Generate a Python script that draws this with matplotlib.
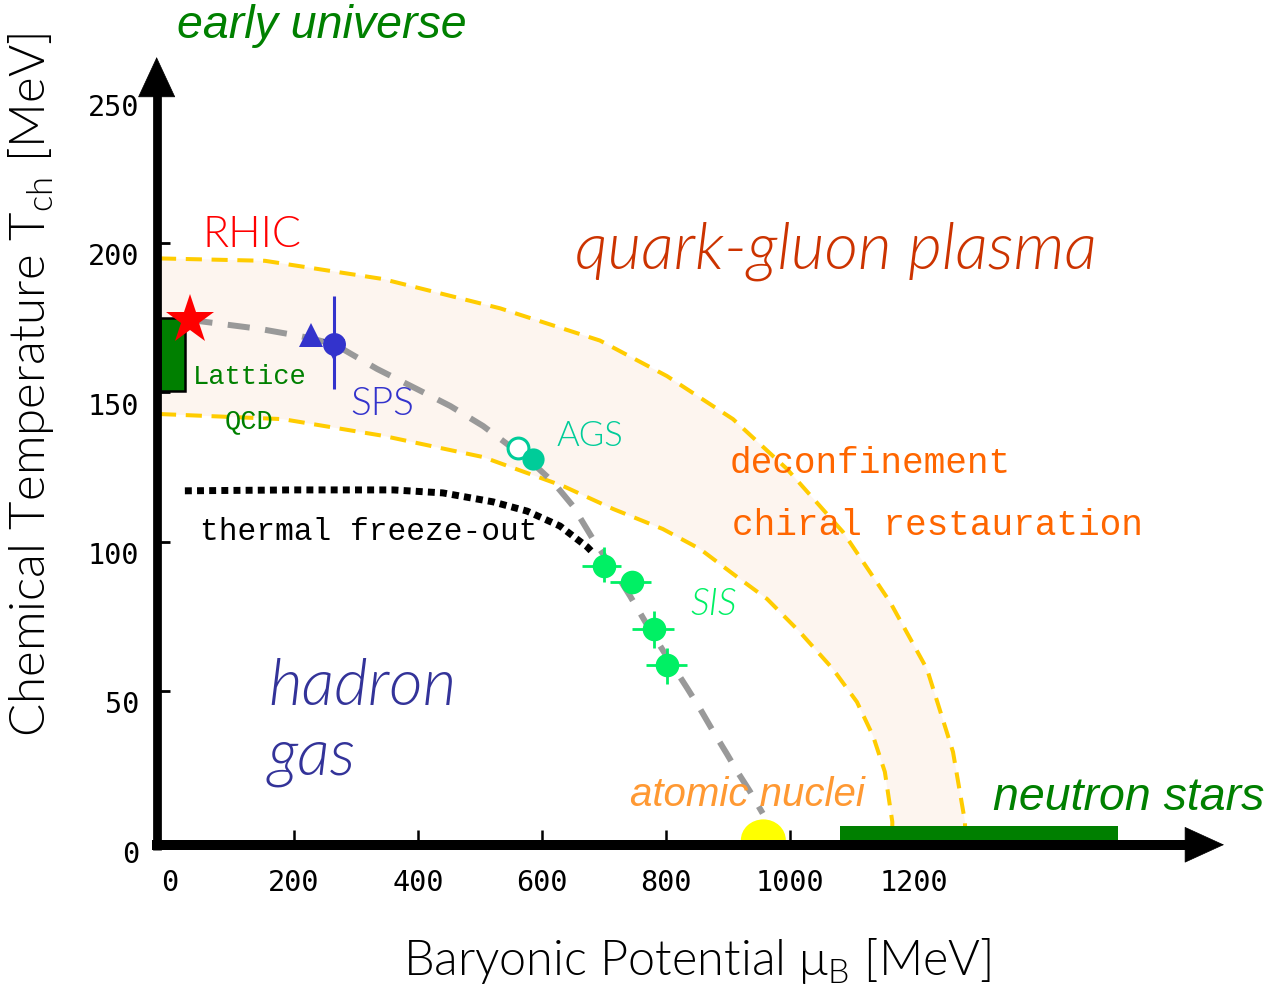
import matplotlib
matplotlib.use("Agg")
import matplotlib.pyplot as plt
from matplotlib.patches import Rectangle, Ellipse

# ---------------- data (MeV) ----------------
rhic_mu, rhic_T = [33.0], [174.2]
lattice_mu = [-16.0, 24.0]
lattice_T = [150.4, 174.9]

sps_tri_mu, sps_tri_T = [228.0], [169.3]
sps_v_mu, sps_v_T = [265.0], [164.0]
sps_mu, sps_T = [264.5], [166.0]
sps_T_lo, sps_T_hi = [151.1], [182.2]

ags_open_mu, ags_open_T = [560.5], [131.5]
ags_mu, ags_T = [584.7], [127.7]

sis_mu = [700.0, 744.7, 780.6, 802.2]
sis_T = [91.9, 86.4, 70.7, 58.7]
sis_mu_lo = [664.0, 709.7, 744.7, 767.2]
sis_mu_hi = [728.0, 775.3, 812.9, 834.4]
sis_T_lo = [86.4, 86.4, 64.3, 52.3]
sis_T_hi = [98.3, 86.4, 76.9, 64.3]

nuclei_mu, nuclei_T = 957.0, 0.0
nuclei_width, nuclei_height = 72.6, 14.0
nstar_mu = [1081.0, 1529.0]
nstar_T = [-1.0, 4.85]

# chemical freeze-out line
freeze_mu = [33, 145, 210, 264, 334, 398, 452, 505, 548, 581, 618, 650, 682,
             715, 742, 769, 795, 834, 855, 876, 898, 915, 935, 956]
freeze_T = [174.2, 171.2, 168.8, 166.2, 157.8, 151.1, 145.4, 138.7, 132.0,
            127.0, 119.9, 111.9, 100.9, 90.8, 81.8, 72.3, 63.6, 51.0, 44.0,
            36.5, 29.0, 23.0, 16.5, 9.0]

# thermal freeze-out line
thermal_mu = [24, 198, 360, 440, 521, 576, 629, 673, 681]
thermal_T = [117.0, 117.3, 117.3, 116.3, 113.3, 110.2, 105.2, 98.2, 96.5]

# phase-boundary band: upper and lower edges
band_hi_mu = [-16.1, 153.2, 343.5, 532.3, 693.5, 801.6, 908.1, 995.2, 1085.5,
              1161.3, 1221.0, 1262.9, 1282.3, 1282.3]
band_hi_T = [194.8, 194.0, 187.9, 178.1, 167.3, 155.4, 141.0, 124.3, 103.2,
             79.8, 57.3, 29.6, 6.1, 0.0]
band_lo_mu = [-16.1, 182, 344, 505, 634, 715, 795, 855, 908, 963, 1016, 1069,
              1108, 1134, 1153, 1165, 1165]
band_lo_T = [142.7, 141.0, 135.4, 128.3, 118.6, 110.9, 104.2, 97.5, 89.2, 80.8,
             69.7, 57.4, 46.3, 34.9, 22.9, 6.2, 0.0]

x_ticks = [200, 400, 600, 800, 1000]
x_ticklabels = [0, 200, 400, 600, 800, 1000, 1200]
y_ticks = [50, 100, 150, 200, 250]
y_ticklabels = [0, 50, 100, 150, 200, 250]

# ---------------- styling ----------------
LIGHT = "Lato"
LW = 300          # light weight for the thin sans labels
MONO = "Liberation Mono"
ARIAL = "Liberation Sans"
TICKF = "DejaVu Sans Mono"
plt.rcParams["mathtext.fontset"] = "custom"
plt.rcParams["mathtext.rm"] = "Lato"

fig = plt.figure(figsize=(12.68, 9.87), dpi=100)
ax = fig.add_axes([0, 0, 1, 1])
ax.set_xlim(-274.19, 1770.97)
ax.set_ylim(-48.78, 281.65)
ax.axis("off")

AX_X = -21.5   # position of the vertical axis line
AX_Y = -1.5    # position of the horizontal axis line

# band between the two phase-boundary estimates
ax.fill(band_hi_mu + band_lo_mu[::-1], band_hi_T + band_lo_T[::-1],
        color="#fdf5ef", lw=0, zorder=1)
for mu, T in ((band_hi_mu, band_hi_T), (band_lo_mu, band_lo_T)):
    ax.plot(mu, T, color="#ffcc00", lw=2.9, dashes=(4, 2.4), zorder=2)

# freeze-out curves
ax.plot(thermal_mu, thermal_T, color="black", lw=5, dashes=(1, 0.75),
        dash_capstyle="butt", zorder=3)
ax.plot(freeze_mu, freeze_T, color="#999999", lw=4.3, dashes=(3.7, 2.6),
        dash_capstyle="butt", zorder=3)

# lattice QCD box
ax.add_patch(Rectangle((lattice_mu[0], lattice_T[0]),
                       lattice_mu[1] - lattice_mu[0], lattice_T[1] - lattice_T[0],
                       facecolor="#007f00", edgecolor="black", lw=1.8, zorder=4))

# atomic nuclei and neutron stars
nuc = Ellipse((nuclei_mu, nuclei_T), nuclei_width, nuclei_height,
              facecolor="#ffff00", edgecolor="none", zorder=4)
ax.add_patch(nuc)
clip = Rectangle((nuclei_mu - nuclei_width, 0), 2 * nuclei_width, nuclei_height,
                 transform=ax.transData)
nuc.set_clip_path(clip)
ax.add_patch(Rectangle((nstar_mu[0], nstar_T[0]), nstar_mu[1] - nstar_mu[0],
                       nstar_T[1] - nstar_T[0], facecolor="#007f00",
                       edgecolor="none", zorder=4))

# SPS
ax.vlines(sps_mu, sps_T_lo, sps_T_hi, color="#3333cc", lw=2.2, zorder=5)
ax.plot(sps_v_mu, sps_v_T, "v", color="#3333cc", ms=16.5, mew=0, zorder=5)
ax.plot(sps_tri_mu, sps_tri_T, "^", color="#3333cc", ms=16.6, mew=0, zorder=5)
ax.plot(sps_mu, sps_T, "o", color="#3333cc", ms=16.5, mew=0, zorder=6)

# AGS
ax.plot(ags_open_mu, ags_open_T, "o", mfc="white", mec="#00cc99", ms=15,
        mew=2.2, zorder=5)
ax.plot(ags_mu, ags_T, "o", color="#00cc99", ms=16, mew=0, zorder=6)

# SIS
sis_green = "#00f064"
xerr = [[m - lo for m, lo in zip(sis_mu, sis_mu_lo)],
        [hi - m for m, hi in zip(sis_mu, sis_mu_hi)]]
yerr = [[t - lo for t, lo in zip(sis_T, sis_T_lo)],
        [hi - t for t, hi in zip(sis_T, sis_T_hi)]]
ax.errorbar(sis_mu, sis_T, xerr=xerr, yerr=yerr, fmt="o", color=sis_green,
            ms=17, mew=0, elinewidth=2.0, capsize=0, zorder=6)

# RHIC
ax.plot(rhic_mu, rhic_T, "*", color="#ff0000", ms=37, mew=0, zorder=7)

# ---------------- axes with arrows ----------------
ax.plot([AX_X, AX_X], [-3.2, 252], color="black", lw=6.3,
        solid_capstyle="butt", zorder=9)
ax.annotate("", xy=(AX_X, 262.2), xytext=(AX_X, 240),
            arrowprops=dict(arrowstyle="-|>,head_length=28,head_width=13",
                            mutation_scale=1, lw=0.5, color="black",
                            shrinkA=0, shrinkB=0), zorder=9)
ax.plot([-29, 1660], [AX_Y, AX_Y], color="black", lw=7.2,
        solid_capstyle="butt", zorder=9)
ax.annotate("", xy=(1700, AX_Y), xytext=(1600, AX_Y),
            arrowprops=dict(arrowstyle="-|>,head_length=27.4,head_width=12.5",
                            mutation_scale=1, lw=0.5, color="black",
                            shrinkA=0, shrinkB=0), zorder=9)

ax.vlines(x_ticks, 0, 3.3, color="black", lw=1.8, zorder=9)
ax.hlines(y_ticks, AX_X, 0, color="black", lw=2.0, zorder=9)

for v in x_ticklabels:
    ax.annotate(str(v), xy=(v, 0), xytext=(0, -30), textcoords="offset points",
                ha="center", va="center", fontsize=20.5, family=TICKF)
for v in y_ticklabels:
    ax.annotate(str(v), xy=(AX_X, v), xytext=(-12.7, -9.7),
                textcoords="offset points", ha="right", va="center",
                fontsize=20.5, family=TICKF)

ax.text(-224, 152.8, r"Chemical Temperature T$_{\mathregular{ch}}$ [MeV]",
        rotation=90, ha="center", va="center", fontsize=35.5, family=LIGHT,
        fontweight=LW)
ax.text(850, -44.8, r"Baryonic Potential μ$_{\mathregular{B}}$ [MeV]",
        ha="center", va="baseline", fontsize=35, family=LIGHT,
        fontweight=LW)

# ---------------- labels ----------------
ax.text(11, 269.0, "early universe", color="#008000", fontsize=33.5,
        family=ARIAL, style="italic", va="baseline")
ax.text(1327, 10.5, "neutron stars", color="#008000", fontsize=33.5,
        family=ARIAL, style="italic", va="baseline")
ax.text(742, 11.8, "atomic nuclei", color="#ff9933", fontsize=29,
        family=ARIAL, style="italic", va="baseline")
ax.text(653, 191.9, "quark-gluon plasma", color="#cc3300", fontsize=47,
        family=LIGHT, fontweight=LW, style="italic", va="baseline")
ax.text(158, 45.6, "hadron", color="#333399", fontsize=47,
        family=LIGHT, fontweight=LW, style="italic", va="baseline")
ax.text(158, 22.2, "gas", color="#333399", fontsize=47,
        family=LIGHT, fontweight=LW, style="italic", va="baseline")
ax.text(53, 198.9, "RHIC", color="#ff0000", fontsize=31,
        family=LIGHT, fontweight=LW, va="baseline")
ax.text(290, 142.7, "SPS", color="#3333cc", fontsize=28,
        family=LIGHT, fontweight=LW, va="baseline")
ax.text(624, 132.3, "AGS", color="#00cc99", fontsize=25,
        family=LIGHT, fontweight=LW, va="baseline")
ax.text(839, 75.8, "SIS", color=sis_green, fontsize=27,
        family=LIGHT, fontweight=LW, style="italic", va="baseline")
ax.text(37, 153.1, "Lattice", color="#008000", fontsize=19.5,
        family=MONO, va="baseline")
ax.text(127, 138.4, "QCD", color="#008000", fontsize=19.5,
        family=MONO, va="baseline", ha="center")
ax.text(48, 100.9, "thermal freeze-out", color="black", fontsize=22.5,
        family=MONO, va="baseline")
ax.text(903, 123.3, "deconfinement", color="#ff6600", fontsize=26,
        family=MONO, va="baseline")
ax.text(906, 102.5, "chiral restauration", color="#ff6600", fontsize=26,
        family=MONO, va="baseline")

fig.savefig("out.png", dpi=100)
